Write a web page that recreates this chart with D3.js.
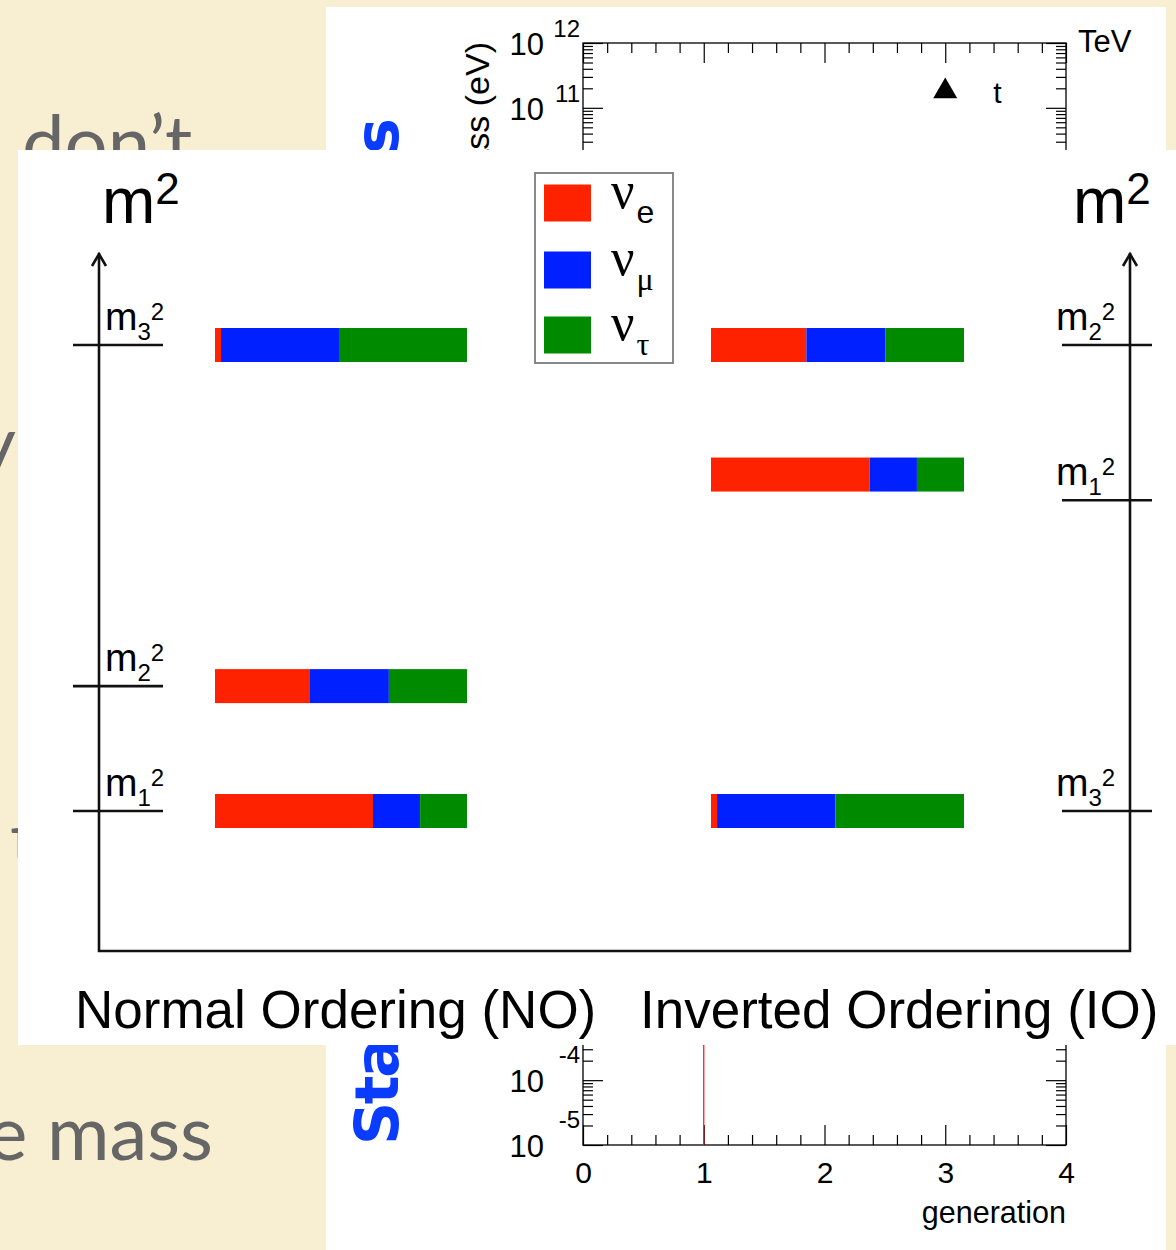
<!DOCTYPE html>
<html>
<head>
  <style>
    body { margin: 0; background: #f8efd3; }
    text { font-family: "Liberation Sans", Arial, sans-serif; }
  </style>
  <title>Neutrino mass ordering</title>
</head>
<body>
  <script src="https://cdn.jsdelivr.net/npm/d3@7"></script>
  <script>
  // ---- data: background mass-vs-generation plot ----
  var generationTicks = [0, 1, 2, 3, 4];
  var decadeExponents = [-5, -4, -3, -2, -1, 0, 1, 2, 3, 4, 5, 6, 7, 8, 9, 10, 11, 12];
  var fermionPoints = [{gen: 3, mass: 1.73e11, label: "t"}];
  var neutrinoRange = {gen: 1, low: 1e-5, high: 1};
  var unitLabels = [{unit: "TeV", mass: 1e12}];

  // ---- data: neutrino mass ordering panel ----
  var flavourNames = ["e", "μ", "τ"];
  var flavourColors = ["#ff2200", "#0020ff", "#008a00"];
  var massStates = ["1", "2", "3"];
  var electronShare = [0.627, 0.377, 0.024];
  var muonShare = [0.187, 0.313, 0.468];
  var tauShare = [0.186, 0.310, 0.508];
  var normalLevels = [0, 0.268, 1];
  var invertedLevels = [0.722, 1, 0];
  var invertedTickLevels = [0.667, 1, 0];

  var svg = d3.select("body").append("svg")
      .attr("width", 1176)
      .attr("height", 1250);

  // slide background
  svg.append("rect").attr("width", 1176).attr("height", 1250).attr("fill", "#f8efd3");

  // slide text behind the panels
  var slide = svg.append("g").attr("font-size", 76).attr("fill", "#666");
  slide.append("text").attr("x", 22).attr("y", 170).style("font-family", "Lato").text("don’t");
  slide.append("text").attr("x", 16).attr("y", 470).attr("text-anchor", "end").style("font-family", "Lato").text("ly");
  slide.append("text").attr("x", 10).attr("y", 866).style("font-family", "Lato").text("the");
  slide.append("text").attr("x", 213).attr("y", 1160).attr("text-anchor", "end").style("font-family", "Lato").text("the mass");

  // ---------------- background chart ----------------
  svg.append("rect").attr("x", 326).attr("y", 7).attr("width", 840).attr("height", 1243).attr("fill", "#fff");

  var bgX = d3.scaleLinear().domain([0, 4]).range([583, 1066]);
  var bgY = d3.scaleLog().domain([1e-5, 1e12]).range([1145, 43]);

  var minorGen = d3.range(0, 4.001, 0.2).filter(function(d){ return Math.abs(d - Math.round(d)) > 1e-6; });
  var majorMass = decadeExponents.map(function(e){ return Math.pow(10, e); });
  var minorMass = [];
  decadeExponents.slice(0, -1).forEach(function(e){
    for (var m = 2; m <= 9; m++) minorMass.push(m * Math.pow(10, e));
  });

  function styleAxis(g) {
    g.select(".domain").remove();
    g.selectAll(".tick line").attr("stroke", "#000").attr("stroke-width", 1.2);
    g.selectAll(".tick text").attr("fill", "#000").style("font-family", "Liberation Sans, Arial, sans-serif");
  }

  svg.append("g").attr("transform", "translate(0,1145)")
      .call(d3.axisBottom(bgX).tickValues(generationTicks).tickSize(-20).tickPadding(17).tickFormat(d3.format("d")))
      .attr("font-size", 30).call(styleAxis);
  svg.append("g").attr("transform", "translate(0,1145)")
      .call(d3.axisBottom(bgX).tickValues(minorGen).tickSize(-10).tickFormat(""))
      .call(styleAxis);
  svg.append("g").attr("transform", "translate(0,43)")
      .call(d3.axisTop(bgX).tickValues(generationTicks).tickSize(-20).tickFormat(""))
      .call(styleAxis);
  svg.append("g").attr("transform", "translate(0,43)")
      .call(d3.axisTop(bgX).tickValues(minorGen).tickSize(-10).tickFormat(""))
      .call(styleAxis);
  svg.append("g").attr("transform", "translate(583,0)")
      .call(d3.axisLeft(bgY).tickValues(majorMass).tickSize(-20).tickFormat(""))
      .call(styleAxis);
  svg.append("g").attr("transform", "translate(583,0)")
      .call(d3.axisLeft(bgY).tickValues(minorMass).tickSize(-10).tickFormat(""))
      .call(styleAxis);
  svg.append("g").attr("transform", "translate(1066,0)")
      .call(d3.axisRight(bgY).tickValues(majorMass).tickSize(-20).tickFormat(""))
      .call(styleAxis);
  svg.append("g").attr("transform", "translate(1066,0)")
      .call(d3.axisRight(bgY).tickValues(minorMass).tickSize(-10).tickFormat(""))
      .call(styleAxis);

  // frame
  svg.append("rect").attr("x", bgX(0)).attr("y", bgY(1e12))
      .attr("width", bgX(4) - bgX(0)).attr("height", bgY(1e-5) - bgY(1e12))
      .attr("fill", "none").attr("stroke", "#000").attr("stroke-width", 1.3);

  // log tick labels 10^n
  var yLabels = svg.append("g").selectAll("g").data(decadeExponents).enter().append("g");
  yLabels.append("text").attr("x", 544).attr("y", function(d){ return bgY(Math.pow(10, d)) + 12; })
      .attr("text-anchor", "end").attr("font-size", 31).text("10");
  yLabels.append("text").attr("x", 580).attr("y", function(d){ return bgY(Math.pow(10, d)) + (d >= 0 ? -6 : -17); })
      .attr("text-anchor", "end").attr("font-size", 24).text(function(d){ return d; });

  svg.append("text").attr("transform", "translate(489,42) rotate(-90)")
      .attr("text-anchor", "end").attr("font-size", 34).text("Mass (eV)");
  svg.append("text").attr("x", 1066).attr("y", 1223).attr("text-anchor", "end")
      .attr("font-size", 30.5).text("generation");

  svg.selectAll(".unit").data(unitLabels).enter().append("text")
      .attr("x", 1078).attr("y", function(d){ return bgY(d.mass) + 9; })
      .attr("font-size", 31).text(function(d){ return d.unit; });

  svg.append("line")
      .attr("x1", bgX(neutrinoRange.gen)).attr("x2", bgX(neutrinoRange.gen))
      .attr("y1", bgY(neutrinoRange.low)).attr("y2", bgY(neutrinoRange.high))
      .attr("stroke", "#ff1a1a").attr("stroke-width", 1.3);

  svg.selectAll(".fermion").data(fermionPoints).enter().append("path")
      .attr("d", d3.symbol().type(d3.symbolTriangle).size(250))
      .attr("transform", function(d){ return "translate(" + bgX(d.gen) + "," + (bgY(d.mass) - 1) + ")"; })
      .attr("fill", "#000");
  svg.selectAll(".fermionLabel").data(fermionPoints).enter().append("text")
      .attr("x", function(d){ return bgX(d.gen) + 48; })
      .attr("y", function(d){ return bgY(d.mass) + 11; })
      .attr("font-size", 30).text(function(d){ return d.label; });

  // blue slide title (rotated)
  svg.append("text").attr("transform", "translate(398,1145) rotate(-90)")
      .attr("font-size", 60).attr("font-weight", "bold").attr("fill", "#0a3cff")
      .style("font-family", "DejaVu Sans, sans-serif")
      .attr("textLength", 1027).attr("lengthAdjust", "spacing")
      .text("Standard Model fermion masses");

  // ---------------- neutrino ordering panel ----------------
  svg.append("rect").attr("x", 18).attr("y", 150).attr("width", 1158).attr("height", 895).attr("fill", "#fff");

  var levelY = d3.scaleLinear().domain([0, 1]).range([811, 345]);
  var shareNO = d3.scaleLinear().domain([0, 1]).range([215, 467]);
  var shareIO = d3.scaleLinear().domain([0, 1]).range([711, 964]);
  var barH = 34;

  // axes with arrows
  var axisG = svg.append("g").attr("stroke", "#111").attr("stroke-width", 2.6).attr("fill", "none");
  axisG.append("path").attr("d", "M99,253 L99,951 L1130,951 L1130,253");
  [99, 1130].forEach(function(x){
    axisG.append("path").attr("d", "M" + (x - 7) + ",266 L" + x + ",254 L" + (x + 7) + ",266");
  });

  svg.append("text").attr("x", 102).attr("y", 223).attr("font-size", 64)
      .text("m").append("tspan").attr("font-size", 44).attr("dy", -19).text("2");
  svg.append("text").attr("x", 1073).attr("y", 223).attr("font-size", 64)
      .text("m").append("tspan").attr("font-size", 44).attr("dy", -19).text("2");

  function shares(i) { return [electronShare[i], muonShare[i], tauShare[i]]; }

  function drawOrdering(levels, tickLevels, xScale, tickX1, tickX2, labelX) {
    var g = svg.append("g");
    massStates.forEach(function(state, i) {
      var s = shares(i);
      var starts = [0].concat(Array.from(d3.cumsum(s)).slice(0, -1));
      g.selectAll(null).data(s).enter().append("rect")
          .attr("x", function(d, j){ return xScale(starts[j]); })
          .attr("width", function(d){ return xScale(d) - xScale(0); })
          .attr("y", levelY(levels[i]) - barH / 2)
          .attr("height", barH)
          .attr("fill", function(d, j){ return flavourColors[j]; });
      var ty = levelY(tickLevels[i]);
      g.append("line").attr("x1", tickX1).attr("x2", tickX2).attr("y1", ty).attr("y2", ty)
          .attr("stroke", "#111").attr("stroke-width", 2.6);
      var t = g.append("text").attr("x", labelX).attr("y", ty - 15).attr("font-size", 39).text("m");
      t.append("tspan").attr("font-size", 24).attr("dy", 10).text(state);
      t.append("tspan").attr("font-size", 24).attr("dy", -20).text("2");
    });
  }
  drawOrdering(normalLevels, normalLevels, shareNO, 73, 163, 105);
  drawOrdering(invertedLevels, invertedTickLevels, shareIO, 1062, 1152, 1056);

  // legend
  var legendRows = [203, 270, 335];
  svg.append("rect").attr("x", 535).attr("y", 173).attr("width", 138).attr("height", 190)
      .attr("fill", "#fff").attr("stroke", "#888").attr("stroke-width", 2);
  var leg = svg.append("g").selectAll("g").data(flavourNames).enter().append("g");
  leg.append("rect").attr("x", 544).attr("y", function(d, i){ return legendRows[i] - 18.5; })
      .attr("width", 47).attr("height", 37).attr("fill", function(d, i){ return flavourColors[i]; });
  var lt = leg.append("text").attr("x", 611).attr("y", function(d, i){ return legendRows[i] + 5; })
      .attr("font-size", 52).style("font-family", "Liberation Serif, serif").text("ν");
  lt.append("tspan").attr("font-size", 32).attr("dy", 15).attr("dx", 2)
      .style("font-family", function(d){ return d === "e" ? "Liberation Sans, sans-serif" : "Liberation Serif, serif"; })
      .text(function(d){ return d; });

  svg.append("text").attr("x", 75).attr("y", 1028).attr("font-size", 53).text("Normal Ordering (NO)");
  svg.append("text").attr("x", 640).attr("y", 1028).attr("font-size", 53).text("Inverted Ordering (IO)");
  </script>
</body>
</html>
